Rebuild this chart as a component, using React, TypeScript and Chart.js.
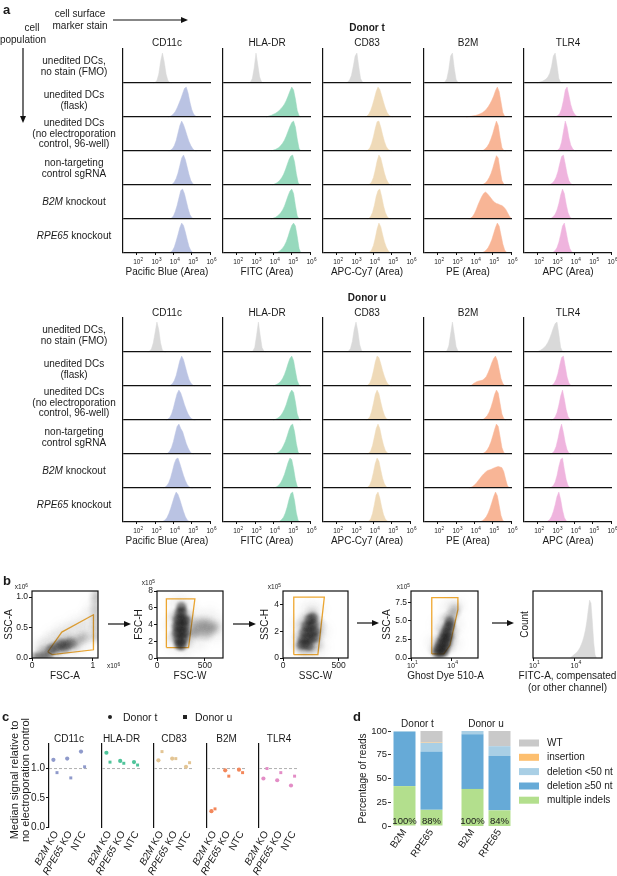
import React, { useEffect, useRef } from 'react';
import { Chart, registerables } from 'chart.js';
Chart.register(...registerables);

const FONT = '"Liberation Sans", Arial, Helvetica, sans-serif';
Chart.defaults.font.family = FONT;
Chart.defaults.color = '#1a1a1a';

// ---------------- Panel a data ----------------
const markers = ['CD11c', 'HLA-DR', 'CD83', 'B2M', 'TLR4'];
const channels = ['Pacific Blue (Area)', 'FITC (Area)', 'APC-Cy7 (Area)', 'PE (Area)', 'APC (Area)'];
const populations = [
  ['unedited DCs,', 'no stain (FMO)'],
  ['unedited DCs', '(flask)'],
  ['unedited DCs', '(no electroporation', 'control, 96-well)'],
  ['non-targeting', 'control sgRNA'],
  ['*B2M* knockout'],
  ['*RPE65* knockout'],
];
const logTicks = [2, 3, 4, 5, 6];
const STEP = 0.1; // histogram bin width in decades
// each histogram: [first bin (log10), relative heights per bin]
const tCD11c = [
  [3.0, [0.02, 0.08, 0.3, 0.72, 1.0, 0.7, 0.3, 0.08, 0.02]],
  [3.8, [0.02, 0.05, 0.1, 0.18, 0.3, 0.45, 0.6, 0.78, 0.95, 1.0, 0.8, 0.5, 0.25, 0.1, 0.03]],
  [3.85, [0.03, 0.08, 0.18, 0.35, 0.6, 0.85, 1.0, 0.88, 0.7, 0.5, 0.32, 0.18, 0.08, 0.02]],
  [3.95, [0.03, 0.1, 0.22, 0.4, 0.65, 0.9, 1.0, 0.85, 0.6, 0.35, 0.15, 0.05]],
  [3.9, [0.03, 0.1, 0.25, 0.45, 0.7, 0.95, 1.0, 0.85, 0.6, 0.35, 0.15, 0.05]],
  [3.85, [0.03, 0.08, 0.2, 0.4, 0.62, 0.85, 1.0, 0.92, 0.7, 0.45, 0.22, 0.08, 0.02]],
];
const tHLADR = [
  [2.75, [0.03, 0.15, 0.5, 1.0, 0.6, 0.2, 0.04]],
  [3.7, [0.02, 0.04, 0.06, 0.09, 0.12, 0.16, 0.21, 0.27, 0.34, 0.43, 0.55, 0.7, 0.86, 1.0, 0.9, 0.6, 0.22, 0.04]],
  [4.0, [0.03, 0.05, 0.08, 0.12, 0.18, 0.26, 0.36, 0.5, 0.66, 0.82, 0.95, 1.0, 0.8, 0.4, 0.08]],
  [4.05, [0.03, 0.06, 0.1, 0.16, 0.24, 0.35, 0.5, 0.68, 0.85, 0.97, 1.0, 0.78, 0.38, 0.08]],
  [4.0, [0.03, 0.05, 0.09, 0.14, 0.21, 0.3, 0.43, 0.6, 0.78, 0.93, 1.0, 0.85, 0.45, 0.1]],
  [4.2, [0.02, 0.05, 0.1, 0.16, 0.25, 0.38, 0.55, 0.75, 0.92, 1.0, 0.9, 0.55, 0.15]],
];
const tCD83 = [
  [2.6, [0.03, 0.1, 0.25, 0.55, 0.9, 1.0, 0.55, 0.15, 0.03]],
  [3.65, [0.03, 0.1, 0.22, 0.4, 0.62, 0.85, 1.0, 0.92, 0.72, 0.5, 0.3, 0.15, 0.06, 0.02]],
  [3.7, [0.03, 0.1, 0.25, 0.48, 0.75, 0.98, 1.0, 0.8, 0.55, 0.32, 0.15, 0.06, 0.02]],
  [3.8, [0.03, 0.1, 0.25, 0.5, 0.8, 1.0, 0.9, 0.65, 0.4, 0.2, 0.08, 0.02]],
  [3.75, [0.02, 0.08, 0.22, 0.45, 0.75, 0.95, 1.0, 0.75, 0.45, 0.22, 0.08, 0.02]],
  [3.8, [0.03, 0.1, 0.25, 0.5, 0.8, 1.0, 0.88, 0.62, 0.38, 0.2, 0.08, 0.02]],
];
const tB2M = [
  [2.4, [0.04, 0.15, 0.45, 0.9, 1.0, 0.5, 0.12, 0.02]],
  [3.65, [0.01, 0.02, 0.03, 0.04, 0.05, 0.07, 0.09, 0.12, 0.15, 0.2, 0.26, 0.34, 0.44, 0.56, 0.7, 0.88, 1.0, 0.85, 0.5, 0.15, 0.02]],
  [4.5, [0.03, 0.08, 0.15, 0.25, 0.4, 0.58, 0.8, 1.0, 0.85, 0.45, 0.12, 0.02]],
  [4.5, [0.03, 0.07, 0.14, 0.24, 0.38, 0.56, 0.78, 0.98, 0.9, 0.5, 0.15, 0.03]],
  [3.8, [0.03, 0.08, 0.18, 0.32, 0.48, 0.62, 0.75, 0.85, 0.9, 0.85, 0.78, 0.7, 0.62, 0.56, 0.52, 0.5, 0.47, 0.45, 0.4, 0.33, 0.22, 0.1, 0.02]],
  [4.45, [0.02, 0.05, 0.1, 0.18, 0.3, 0.45, 0.65, 0.85, 1.0, 0.9, 0.6, 0.3, 0.1, 0.02]],
];
const tTLR4 = [
  [2.05, [0.02, 0.04, 0.06, 0.09, 0.13, 0.2, 0.32, 0.55, 0.9, 1.0, 0.6, 0.15, 0.02]],
  [3.0, [0.02, 0.05, 0.12, 0.28, 0.55, 0.9, 1.0, 0.72, 0.42, 0.22, 0.1, 0.04, 0.01]],
  [3.1, [0.03, 0.1, 0.3, 0.65, 1.0, 0.8, 0.45, 0.2, 0.08, 0.02]],
  [2.7, [0.03, 0.07, 0.14, 0.26, 0.45, 0.72, 0.95, 1.0, 0.7, 0.38, 0.15, 0.05, 0.01]],
  [2.75, [0.03, 0.08, 0.16, 0.3, 0.52, 0.8, 1.0, 0.85, 0.5, 0.22, 0.07, 0.02]],
  [2.85, [0.03, 0.08, 0.18, 0.36, 0.62, 0.9, 1.0, 0.7, 0.38, 0.15, 0.04]],
];
const uCD11c = [
  [2.7, [0.03, 0.1, 0.3, 0.65, 1.0, 0.75, 0.3, 0.06, 0.01]],
  [3.85, [0.03, 0.08, 0.18, 0.35, 0.6, 0.85, 1.0, 0.88, 0.65, 0.42, 0.22, 0.1, 0.03]],
  [3.7, [0.03, 0.08, 0.2, 0.4, 0.65, 0.88, 1.0, 0.9, 0.72, 0.52, 0.35, 0.2, 0.1, 0.04, 0.01]],
  [3.7, [0.03, 0.1, 0.22, 0.42, 0.68, 0.92, 1.0, 0.85, 0.75, 0.55, 0.35, 0.2, 0.08, 0.02]],
  [3.55, [0.03, 0.08, 0.18, 0.35, 0.58, 0.82, 0.97, 1.0, 0.82, 0.62, 0.42, 0.25, 0.12, 0.04, 0.01]],
  [3.45, [0.03, 0.07, 0.15, 0.28, 0.45, 0.65, 0.85, 1.0, 0.92, 0.75, 0.55, 0.35, 0.18, 0.07, 0.02]],
];
const uHLADR = [
  [2.88, [0.03, 0.15, 0.55, 1.0, 0.55, 0.15, 0.03]],
  [4.1, [0.03, 0.06, 0.1, 0.16, 0.25, 0.38, 0.55, 0.75, 0.92, 1.0, 0.85, 0.5, 0.18, 0.03]],
  [4.1, [0.02, 0.05, 0.09, 0.15, 0.24, 0.36, 0.52, 0.72, 0.9, 1.0, 0.92, 0.6, 0.2, 0.03]],
  [4.15, [0.02, 0.05, 0.1, 0.17, 0.28, 0.42, 0.6, 0.8, 0.95, 1.0, 0.75, 0.35, 0.06]],
  [4.1, [0.02, 0.05, 0.1, 0.18, 0.3, 0.45, 0.65, 0.85, 1.0, 0.95, 0.65, 0.28, 0.05]],
  [4.35, [0.03, 0.08, 0.16, 0.3, 0.5, 0.75, 0.95, 1.0, 0.72, 0.3, 0.05]],
];
const uCD83 = [
  [2.65, [0.03, 0.12, 0.35, 0.75, 1.0, 0.7, 0.25, 0.05]],
  [3.7, [0.03, 0.1, 0.25, 0.5, 0.8, 1.0, 0.95, 0.75, 0.52, 0.32, 0.16, 0.06, 0.02]],
  [3.7, [0.03, 0.1, 0.28, 0.55, 0.85, 1.0, 0.88, 0.6, 0.35, 0.16, 0.05, 0.01]],
  [3.75, [0.03, 0.1, 0.28, 0.56, 0.85, 1.0, 0.85, 0.55, 0.3, 0.12, 0.04]],
  [3.7, [0.03, 0.1, 0.26, 0.52, 0.82, 1.0, 0.9, 0.6, 0.33, 0.14, 0.04]],
  [3.75, [0.03, 0.1, 0.28, 0.58, 0.9, 1.0, 0.8, 0.5, 0.25, 0.1, 0.03]],
];
const uB2M = [
  [2.5, [0.04, 0.2, 0.6, 1.0, 0.6, 0.18, 0.03]],
  [3.85, [0.03, 0.08, 0.12, 0.15, 0.17, 0.18, 0.2, 0.25, 0.32, 0.45, 0.6, 0.78, 0.92, 1.0, 0.85, 0.55, 0.25, 0.08, 0.02]],
  [4.5, [0.03, 0.08, 0.15, 0.26, 0.42, 0.62, 0.85, 1.0, 0.9, 0.55, 0.2, 0.05]],
  [4.5, [0.03, 0.07, 0.14, 0.25, 0.4, 0.6, 0.82, 1.0, 0.92, 0.58, 0.22, 0.05]],
  [3.8, [0.02, 0.05, 0.1, 0.16, 0.24, 0.32, 0.4, 0.47, 0.53, 0.58, 0.6, 0.62, 0.65, 0.68, 0.7, 0.72, 0.7, 0.68, 0.55, 0.3, 0.08]],
  [4.35, [0.02, 0.05, 0.1, 0.18, 0.3, 0.46, 0.65, 0.85, 1.0, 0.88, 0.55, 0.22, 0.05]],
];
const uTLR4 = [
  [2.05, [0.03, 0.06, 0.1, 0.15, 0.22, 0.32, 0.45, 0.62, 0.8, 0.95, 1.0, 0.6, 0.15, 0.02]],
  [2.8, [0.03, 0.1, 0.22, 0.42, 0.7, 0.95, 1.0, 0.65, 0.3, 0.1, 0.02]],
  [2.85, [0.03, 0.1, 0.25, 0.5, 0.8, 1.0, 0.7, 0.35, 0.12, 0.03]],
  [2.8, [0.03, 0.1, 0.25, 0.5, 0.8, 1.0, 0.72, 0.38, 0.14, 0.03]],
  [2.75, [0.03, 0.08, 0.2, 0.42, 0.72, 0.95, 1.0, 0.62, 0.28, 0.08, 0.02]],
  [2.55, [0.03, 0.08, 0.18, 0.35, 0.58, 0.85, 1.0, 0.75, 0.4, 0.15, 0.04]],
];
const donorTHists = [tCD11c, tHLADR, tCD83, tB2M, tTLR4];
const donorUHists = [uCD11c, uHLADR, uCD83, uB2M, uTLR4];
const histColors = ['#bac3e3', '#97d9bd', '#efdab8', '#f8b596', '#efb4de'];
const FMO_GRAY = '#d9d9d9';

// ---------------- Panel b data ----------------
const fscA_core = [[0.35, 0.16], [0.42, 0.18], [0.5, 0.2], [0.57, 0.22], [0.64, 0.24], [0.47, 0.23], [0.55, 0.17], [0.3, 0.13], [0.05, 0.01], [0.12, 0.01], [0.2, 0.015], [0.27, 0.02]];
const fscA_cloud = [[0.15, 0.08], [0.22, 0.1], [0.3, 0.13], [0.38, 0.16], [0.46, 0.19], [0.54, 0.21], [0.62, 0.23], [0.7, 0.27], [0.78, 0.3], [0.86, 0.34], [0.5, 0.26], [0.6, 0.3], [0.42, 0.12], [0.7, 0.2], [1.05, 0.35], [1.05, 0.5], [1.05, 0.65], [1.05, 0.8], [1.05, 0.95], [1.06, 1.05]];
const fscA_haze = [[0.2, 0.15], [0.3, 0.25], [0.45, 0.3], [0.6, 0.4], [0.75, 0.45], [0.9, 0.5], [0.95, 0.35], [0.8, 0.2], [0.6, 0.12], [0.4, 0.1], [0.25, 0.08], [0.5, 0.45], [0.7, 0.55], [0.9, 0.65], [1.0, 0.8], [0.35, 0.35], [0.15, 0.2]];
const gateFSCA = [[0.26, 0.1], [0.33, 0.055], [1.01, 0.135], [1.01, 0.71], [0.49, 0.425], [0.26, 0.1]];

const fscW_core = [[220, 2.2], [250, 2.0], [280, 2.3], [205, 3.0], [235, 3.0], [265, 3.0], [295, 3.0], [205, 3.8], [235, 3.8], [265, 3.8], [295, 3.8], [215, 4.6], [245, 4.6], [275, 4.6], [300, 4.5], [235, 5.4], [265, 5.5], [255, 6.1], [230, 1.6], [260, 1.5]];
const fscW_cloud = [[340, 3.0], [380, 3.2], [420, 3.5], [460, 3.6], [500, 3.7], [540, 3.5], [580, 3.4], [360, 4.0], [420, 4.2], [480, 4.3], [540, 4.2], [400, 2.8], [470, 2.9], [530, 2.8], [600, 3.8], [320, 2.0], [320, 5.0], [180, 5.0], [170, 2.5]];
const fscW_haze = [[150, 4], [200, 6.5], [300, 6.5], [400, 5], [550, 5], [620, 3], [450, 2], [300, 1.2], [180, 1.5], [650, 4]];
const gateFSCW = [[98, 1.25], [98, 7.05], [396, 7.05], [330, 1.25], [98, 1.25]];

const sscW_core = [[200, 1.0], [235, 0.9], [180, 1.4], [215, 1.4], [250, 1.4], [285, 1.5], [190, 1.9], [225, 1.9], [260, 1.9], [290, 2.0], [210, 2.4], [245, 2.4], [275, 2.5], [240, 2.9], [270, 3.0], [165, 1.0]];
const sscW_cloud = [[150, 0.8], [150, 1.6], [170, 2.4], [200, 2.9], [260, 3.3], [300, 2.8], [320, 1.8], [310, 1.0], [260, 0.7], [190, 0.6], [330, 2.4]];
const sscW_haze = [[130, 1.2], [140, 2.5], [220, 3.6], [300, 3.6], [350, 2.0], [330, 0.8], [240, 0.4]];
const gateSSCW = [[97, 0.25], [97, 4.55], [372, 4.55], [314, 0.25], [97, 0.25]];

const ghost_core = [[2.95, 0.7], [3.2, 0.7], [3.45, 0.8], [3.05, 1.3], [3.3, 1.3], [3.55, 1.4], [3.2, 1.9], [3.45, 2.0], [3.7, 2.1], [3.35, 2.6], [3.6, 2.7], [3.8, 2.9], [3.5, 3.3], [3.75, 3.5], [3.7, 4.1], [3.9, 4.3], [3.9, 4.9]];
const ghost_cloud = [[4.0, 5.5], [4.15, 6.0], [4.1, 3.6], [4.0, 2.6], [3.85, 1.5], [2.8, 1.1], [3.0, 2.3], [3.3, 3.8], [4.3, 6.6], [3.6, 5.2]];
const ghost_haze = [[4.3, 4.5], [4.4, 7], [3.2, 4.5], [2.7, 2.0], [4.2, 2], [3.8, 6.8]];
const gateGhost = [[2.55, 0.55], [2.55, 8.1], [4.5, 8.1], [4.5, 6.5], [3.9, 1.7], [3.45, 0.55], [2.55, 0.55]];

const fitcHist = [3.8, [0.02, 0.04, 0.06, 0.08, 0.1, 0.13, 0.17, 0.22, 0.28, 0.36, 0.46, 0.6, 0.78, 0.95, 0.9, 0.6, 0.25, 0.05]];

// ---------------- Panel c data ----------------
const koGroups = ['*B2M* KO', '*RPE65* KO', 'NTC'];
const medT_CD11c = [1.15, 1.17, 1.29];
const medU_CD11c = [0.93, 0.84, 1.03];
const medT_HLADR = [1.27, 1.13, 1.11];
const medU_HLADR = [1.11, 1.09, 1.06];
const medT_CD83 = [1.14, 1.17, 1.03];
const medU_CD83 = [1.29, 1.17, 1.1];
const medT_B2M = [0.27, 0.97, 0.98];
const medU_B2M = [0.31, 0.87, 0.93];
const medT_TLR4 = [0.83, 0.8, 0.71];
const medU_TLR4 = [1.0, 0.93, 0.87];
const medDonorT = [medT_CD11c, medT_HLADR, medT_CD83, medT_B2M, medT_TLR4];
const medDonorU = [medU_CD11c, medU_HLADR, medU_CD83, medU_B2M, medU_TLR4];
const pointColors = ['#8f9acb', '#4fc49a', '#e3c594', '#f3875a', '#e38dc6'];
const medTicks = [0, 0.5, 1.0];

// ---------------- Panel d data ----------------
const guides = ['B2M', 'RPE65'];
const editClasses = ['WT', 'insertion', 'deletion <50 nt', 'deletion ≥50 nt', 'multiple indels'];
const editColors = ['#c9c9c9', '#fdbf6f', '#a9cfe5', '#66aad7', '#b3df8d'];
const tWT = [0, 12];
const tIns = [0, 0.5];
const tDelSmall = [1, 9];
const tDelLarge = [57, 61.5];
const tMulti = [42, 17];
const uWT = [0, 16];
const uIns = [0, 0];
const uDelSmall = [3.5, 10.3];
const uDelLarge = [57.5, 57.2];
const uMulti = [39, 16.5];
const pctTicks = [0, 25, 50, 75, 100];

// ---------------- helpers ----------------
const fixTicks = (vals: number[]) => (s: any) => {
  s.ticks = vals.map((v) => ({ value: v }));
};

function splitItalic(s: string) {
  return s.split('*').map((t, i) => ({ t, it: i % 2 === 1 })).filter((p) => p.t.length);
}

const powTicks = {
  id: 'powTicks',
  afterDraw(chart: any, _a: any, o: any) {
    if (!o || !o.values) return;
    const { ctx, chartArea } = chart;
    const xs = chart.scales.x;
    ctx.save();
    ctx.fillStyle = '#1a1a1a';
    ctx.textBaseline = 'middle';
    o.values.forEach((v: number) => {
      const px = xs.getPixelForValue(v);
      const py = chartArea.bottom + o.offset;
      ctx.font = `${o.size}px ${FONT}`;
      const w = ctx.measureText('10').width;
      ctx.textAlign = 'center';
      ctx.fillText('10', px, py);
      ctx.font = `${o.size * 0.72}px ${FONT}`;
      ctx.textAlign = 'left';
      ctx.fillText(String(v), px + w / 2 + 0.2, py - o.size * 0.42);
    });
    ctx.restore();
  },
};

const frameBox = {
  id: 'frameBox',
  afterDraw(chart: any, _a: any, o: any) {
    if (!o || !o.on) return;
    const { ctx, chartArea: c } = chart;
    ctx.save();
    ctx.strokeStyle = '#111';
    ctx.lineWidth = 1.2;
    ctx.strokeRect(c.left, c.top, c.right - c.left, c.bottom - c.top);
    ctx.restore();
  },
};

// soft-focus for density clouds (dataset option "blur", px)
const softCloud = {
  id: 'softCloud',
  beforeDatasetDraw(chart: any, args: any) {
    const b = chart.data.datasets[args.index].blur;
    if (b) chart.ctx.filter = `blur(${b}px)`;
  },
  afterDatasetDraw(chart: any, args: any) {
    const b = chart.data.datasets[args.index].blur;
    if (b) chart.ctx.filter = 'none';
  },
};

const slantLabels = {
  id: 'slantLabels',
  afterDraw(chart: any, _a: any, o: any) {
    if (!o || !o.labels) return;
    const { ctx, chartArea } = chart;
    const xs = chart.scales.x;
    o.labels.forEach((label: string, i: number) => {
      const segs = splitItalic(label);
      ctx.save();
      ctx.translate(xs.getPixelForValue(i) + o.dx, chartArea.bottom + o.dy);
      ctx.rotate((-o.angle * Math.PI) / 180);
      ctx.fillStyle = '#1a1a1a';
      ctx.textBaseline = 'middle';
      ctx.textAlign = 'left';
      const fonts = segs.map((s) => `${s.it ? 'italic ' : ''}${o.size}px ${FONT}`);
      let total = 0;
      segs.forEach((s, k) => {
        ctx.font = fonts[k];
        total += ctx.measureText(s.t).width;
      });
      let x = -total;
      segs.forEach((s, k) => {
        ctx.font = fonts[k];
        ctx.fillText(s.t, x, 0);
        x += ctx.measureText(s.t).width;
      });
      ctx.restore();
    });
  },
};

const barNotes = {
  id: 'barNotes',
  afterDatasetsDraw(chart: any, _a: any, o: any) {
    if (!o || !o.labels) return;
    const { ctx } = chart;
    const xs = chart.scales.x;
    const ys = chart.scales.y;
    ctx.save();
    ctx.font = `9.5px ${FONT}`;
    ctx.fillStyle = '#1a1a1a';
    ctx.textAlign = 'center';
    ctx.textBaseline = 'middle';
    o.labels.forEach((t: string, i: number) => ctx.fillText(t, xs.getPixelForValue(i), ys.getPixelForValue(o.at)));
    ctx.restore();
  },
};

type Geo = { x: number; y: number; w: number; h: number; l: number; r: number; t: number; b: number };

function baseOptions(geo: Geo, scales: any, plugins: any = {}) {
  scales.x.afterFit = (s: any) => {
    s.height = geo.b;
  };
  scales.y.afterFit = (s: any) => {
    s.width = geo.l;
  };
  return {
    responsive: false,
    maintainAspectRatio: false,
    animation: false,
    devicePixelRatio: 1,
    events: [],
    layout: { padding: { left: 0, right: geo.r, top: geo.t, bottom: 0 } },
    plugins: { legend: { display: false }, tooltip: { enabled: false }, ...plugins },
    scales,
  };
}

const tickGrid = { drawOnChartArea: false, drawTicks: true, tickLength: 3, color: '#111', lineWidth: 1 };
const noGrid = { display: false, drawTicks: false };

function histDatasets(rows: any[], color: string) {
  return rows.map(([start, hs]: [number, number[]], r: number) => {
    const base = rows.length - 1 - r;
    const pts = [{ x: start - STEP, y: base }];
    hs.forEach((h, i) => pts.push({ x: start + i * STEP, y: base + h * 0.88 }));
    pts.push({ x: start + hs.length * STEP, y: base });
    const c = r === 0 ? FMO_GRAY : color;
    return { type: 'line', data: pts, borderColor: c, backgroundColor: c, borderWidth: 0.5, pointRadius: 0, fill: { value: base }, tension: 0 };
  });
}

const colLefts = [123, 223, 323, 424, 524];

function histColumnSpec(key: string, left: number, top: number, rows: any[], color: string, channel: string) {
  const geo: Geo = { x: left, y: top, w: 88, h: 204, l: 2, r: 10, t: 2, b: 27 };
  return {
    key,
    geo,
    make: () => ({
      type: 'line',
      data: { datasets: histDatasets(rows, color) },
      options: baseOptions(
        geo,
        {
          x: {
            type: 'linear', min: 1.25, max: 6.05, afterBuildTicks: fixTicks(logTicks),
            ticks: { display: false }, border: { display: false },
            grid: { drawOnChartArea: false, drawTicks: true, tickLength: 2, color: '#111', lineWidth: 1 },
            title: { display: true, text: channel, font: { size: 10 }, padding: { top: 0, bottom: 1.5 }, color: '#1a1a1a' },
          },
          y: {
            type: 'linear', min: 0, max: 6, afterBuildTicks: fixTicks([0, 1, 2, 3, 4, 5]),
            ticks: { display: false },
            grid: { color: '#111', lineWidth: 1.2, drawTicks: false, z: 1 },
            border: { display: true, color: '#111', width: 1.2, z: 1 },
          },
        },
        { powTicks: { values: logTicks, offset: 9, size: 6.5 } }
      ),
      plugins: [powTicks],
    }),
  };
}

function cloudSets(core: number[][], cloud: number[][], haze: number[][], coreAlpha: number) {
  const mk = (arr: number[][], r: number, col: string, blur: number) => ({
    type: 'scatter', data: arr.map(([x, y]) => ({ x, y })), blur,
    pointRadius: r, pointHoverRadius: r,
    backgroundColor: col, pointBackgroundColor: col,
    borderWidth: 0, pointBorderWidth: 0, borderColor: 'rgba(0,0,0,0)', pointBorderColor: 'rgba(0,0,0,0)',
  });
  return [
    mk(haze, 8, 'rgba(90,90,90,0.08)', 4),
    mk(cloud, 5, 'rgba(60,60,60,0.22)', 2.5),
    mk(core, 5, `rgba(35,35,35,${coreAlpha})`, 1.5),
  ];
}

function gateSet(gate: number[][]) {
  return { type: 'line', data: gate.map(([x, y]) => ({ x, y })), borderColor: '#f0a830', borderWidth: 1.3, pointRadius: 0, fill: false, tension: 0 };
}

const tickFont = { size: 8.5 };

function linX(min: number, max: number, ticks: number[], title: any) {
  return {
    type: 'linear', min, max, afterBuildTicks: fixTicks(ticks),
    ticks: { font: tickFont, padding: 0, maxRotation: 0, autoSkip: false, callback: (v: number) => String(v) },
    grid: tickGrid, border: { display: false },
    title: { display: true, text: title, font: { size: 10 }, padding: { top: 0, bottom: 2 } },
  };
}
function logX(min: number, max: number, ticks: number[]) {
  return {
    type: 'linear', min, max, afterBuildTicks: fixTicks(ticks),
    ticks: { display: false }, grid: tickGrid, border: { display: false },
  };
}
function linY(min: number, max: number, ticks: number[], digits: number, title: string, pad: number) {
  return {
    type: 'linear', min, max, afterBuildTicks: fixTicks(ticks),
    ticks: { font: tickFont, padding: 1, callback: (v: number) => v.toFixed(digits) },
    grid: tickGrid, border: { display: false },
    title: { display: true, text: title, font: { size: 10 }, padding: { top: pad, bottom: 0 } },
  };
}

const gateGeo1: Geo = { x: 32, y: 591, w: 70, h: 67, l: 30, r: 4, t: 8, b: 26 };
const gateGeo2: Geo = { x: 157, y: 591, w: 70, h: 67, l: 24, r: 4, t: 8, b: 26 };
const gateGeo3: Geo = { x: 283, y: 591, w: 69, h: 67, l: 24, r: 4, t: 8, b: 26 };
const gateGeo4: Geo = { x: 411, y: 591, w: 69, h: 67, l: 30, r: 6, t: 8, b: 26 };
const gateGeo5: Geo = { x: 533, y: 591, w: 69, h: 67, l: 14, r: 6, t: 8, b: 26 };

const gateSpecs = [
  {
    key: 'b1', geo: gateGeo1,
    make: () => ({
      type: 'scatter',
      data: { datasets: [...cloudSets(fscA_core, fscA_cloud, fscA_haze, 0.3), gateSet(gateFSCA)] },
      options: baseOptions(gateGeo1, { x: linX(0, 1.085, [0, 1], 'FSC-A'), y: linY(0, 1.1, [0, 0.5, 1], 1, 'SSC-A', 1) }, { frameBox: { on: true } }),
      plugins: [softCloud, frameBox],
    }),
  },
  {
    key: 'b2', geo: gateGeo2,
    make: () => ({
      type: 'scatter',
      data: { datasets: [...cloudSets(fscW_core, fscW_cloud, fscW_haze, 0.55), gateSet(gateFSCW)] },
      options: baseOptions(gateGeo2, { x: linX(0, 690, [0, 500], 'FSC-W'), y: linY(0, 8, [0, 2, 4, 6, 8], 0, 'FSC-H', 0.5) }, { frameBox: { on: true } }),
      plugins: [softCloud, frameBox],
    }),
  },
  {
    key: 'b3', geo: gateGeo3,
    make: () => ({
      type: 'scatter',
      data: { datasets: [...cloudSets(sscW_core, sscW_cloud, sscW_haze, 0.55), gateSet(gateSSCW)] },
      options: baseOptions(gateGeo3, { x: linX(0, 585, [0, 500], 'SSC-W'), y: linY(0, 5, [0, 2, 4], 0, 'SSC-H', 0) }, { frameBox: { on: true } }),
      plugins: [softCloud, frameBox],
    }),
  },
  {
    key: 'b4', geo: gateGeo4,
    make: () => ({
      type: 'scatter',
      data: { datasets: [...cloudSets(ghost_core, ghost_cloud, ghost_haze, 0.55), gateSet(gateGhost)] },
      options: baseOptions(
        gateGeo4,
        { x: logX(1, 6, [1, 4]), y: linY(0, 9, [0, 2.5, 5, 7.5], 1, 'SSC-A', 0) },
        { frameBox: { on: true }, powTicks: { values: [1, 4], offset: 8, size: 7 } }
      ),
      plugins: [softCloud, frameBox, powTicks],
    }),
  },
  {
    key: 'b5', geo: gateGeo5,
    make: () => {
      const [start, hs] = fitcHist as [number, number[]];
      const pts = [{ x: start - STEP, y: 0 }, ...hs.map((h, i) => ({ x: start + i * STEP, y: h })), { x: start + hs.length * STEP, y: 0 }];
      return {
        type: 'line',
        data: { datasets: [{ data: pts, borderColor: FMO_GRAY, backgroundColor: FMO_GRAY, borderWidth: 0.5, pointRadius: 0, fill: 'origin', tension: 0 }] },
        options: baseOptions(
          gateGeo5,
          {
            x: logX(1, 6, [1, 4]),
            y: { type: 'linear', min: 0, max: 1.1, ticks: { display: false }, grid: noGrid, border: { display: false }, title: { display: true, text: 'Count', font: { size: 10 }, padding: { top: 0, bottom: 0 } } },
          },
          { frameBox: { on: true }, powTicks: { values: [1, 4], offset: 8, size: 7 } }
        ),
        plugins: [frameBox, powTicks],
      };
    },
  },
];

// panel c
const medLefts = [49, 101.5, 154, 206.5, 259];
const medSpecs = markers.map((m, i) => {
  const first = i === 0;
  const geo: Geo = { x: medLefts[i], y: 744, w: 40, h: 83, l: 30, r: 4, t: 8, b: 50 };
  return {
    key: 'c' + i, geo,
    make: () => ({
      type: 'scatter',
      data: {
        datasets: [
          { type: 'line', data: [{ x: -0.45, y: 1 }, { x: 2.45, y: 1 }], borderColor: '#b0b0b0', borderDash: [3, 2], borderWidth: 1, pointRadius: 0, order: 3 },
          { data: medDonorT[i].map((v, k) => ({ x: k - 0.13, y: v })), pointStyle: 'circle', pointRadius: 2.1, backgroundColor: pointColors[i], pointBorderWidth: 0, borderWidth: 0, order: 1 },
          { data: medDonorU[i].map((v, k) => ({ x: k + 0.13, y: v })), pointStyle: 'rect', pointRadius: 2.1, backgroundColor: pointColors[i], pointBorderWidth: 0, borderWidth: 0, order: 0 },
        ],
      },
      options: baseOptions(
        geo,
        {
          x: { type: 'linear', min: -0.45, max: 2.45, ticks: { display: false }, grid: noGrid, border: { display: false } },
          y: {
            type: 'linear', min: 0, max: 1.42, afterBuildTicks: fixTicks(medTicks),
            ticks: { display: first, font: { size: 10 }, padding: 1, callback: (v: number) => v.toFixed(1) },
            grid: first ? tickGrid : noGrid,
            border: { display: true, color: '#111', width: 1.2 },
          },
        },
        { slantLabels: { labels: koGroups, angle: 60, dx: 1, dy: 5, size: 10 } }
      ),
      plugins: [slantLabels],
    }),
  };
});

// panel d
function editDatasets(multi: number[], delL: number[], delS: number[], ins: number[], wt: number[]) {
  const vals = [wt, ins, delS, delL, multi];
  // bottom to top order: multiple indels, deletion >=50, deletion <50, insertion, WT
  return [4, 3, 2, 1, 0].map((k) => ({
    label: editClasses[k], data: vals[k], backgroundColor: editColors[k], borderWidth: 0, stack: 's',
    barPercentage: 22 / 27, categoryPercentage: 1,
  }));
}
function editSpec(key: string, geo: Geo, sets: any[], wt: number[], withAxis: boolean) {
  return {
    key, geo,
    make: () => ({
      type: 'bar',
      data: { labels: guides, datasets: sets },
      options: baseOptions(
        geo,
        {
          x: {
            type: 'category', stacked: true,
            ticks: { font: { size: 10 }, minRotation: 55, maxRotation: 55, padding: 1, autoSkip: false },
            grid: noGrid, border: { display: false },
          },
          y: {
            type: 'linear', stacked: true, min: 0, max: 100, afterBuildTicks: fixTicks(pctTicks),
            ticks: { display: withAxis, font: { size: 9.5 }, padding: 1 },
            grid: withAxis ? { drawOnChartArea: false, drawTicks: true, tickLength: 3, color: '#333' } : noGrid,
            border: { display: false },
            title: withAxis ? { display: true, text: 'Percentage of reads', font: { size: 10 }, padding: { top: 0.5, bottom: 0 } } : { display: false },
          },
        },
        { barNotes: { labels: wt.map((w) => `${Math.round(100 - w)}%`), at: 5 } }
      ),
      plugins: [barNotes],
    }),
  };
}
const editGeoT: Geo = { x: 390.5, y: 731, w: 54, h: 95, l: 34, r: 3, t: 10, b: 45 };
const editGeoU: Geo = { x: 459, y: 731, w: 54, h: 95, l: 4, r: 3, t: 10, b: 45 };

const SPECS: any[] = [
  ...markers.map((m, i) => histColumnSpec('at' + i, colLefts[i], 49, donorTHists[i], histColors[i], channels[i])),
  ...markers.map((m, i) => histColumnSpec('au' + i, colLefts[i], 318, donorUHists[i], histColors[i], channels[i])),
  ...gateSpecs,
  ...medSpecs,
  editSpec('dt', editGeoT, editDatasets(tMulti, tDelLarge, tDelSmall, tIns, tWT), tWT, true),
  editSpec('du', editGeoU, editDatasets(uMulti, uDelLarge, uDelSmall, uIns, uWT), uWT, false),
];

function ChartCanvas({ spec }: { spec: any }) {
  const ref = useRef<HTMLCanvasElement>(null);
  useEffect(() => {
    const chart = new Chart(ref.current as HTMLCanvasElement, spec.make());
    return () => chart.destroy();
  }, [spec]);
  const g: Geo = spec.geo;
  const W = g.w + g.l + g.r;
  const H = g.h + g.t + g.b;
  return <canvas ref={ref} width={W} height={H} style={{ position: 'absolute', left: g.x - g.l, top: g.y - g.t, width: W, height: H }} />;
}

function Rich({ s }: { s: string }) {
  return (
    <>
      {splitItalic(s).map((p, i) => (p.it ? <i key={i}>{p.t}</i> : <span key={i}>{p.t}</span>))}
    </>
  );
}

function Txt({ x, y, s = 10, b = false, a = 'c', rot = 0, lh, children }: any) {
  const tx = a === 'c' ? '-50%' : a === 'r' ? '-100%' : '0%';
  return (
    <div
      style={{
        position: 'absolute', left: x, top: y,
        transform: `translate(${tx},-50%)` + (rot ? ` rotate(${rot}deg)` : ''),
        fontFamily: FONT, fontSize: s, fontWeight: b ? 700 : 400,
        lineHeight: `${lh ?? Math.round(s * 1.15)}px`, whiteSpace: 'nowrap',
        textAlign: a === 'c' ? 'center' : a === 'r' ? 'right' : 'left', color: '#1a1a1a',
      }}
    >
      {children}
    </div>
  );
}

function Lines({ lines }: { lines: string[] }) {
  return (
    <>
      {lines.map((l, i) => (
        <div key={i}>
          <Rich s={l} />
        </div>
      ))}
    </>
  );
}

function Exp({ x, y, e, a = 'r' }: any) {
  return (
    <Txt x={x} y={y} s={6.5} a={a}>
      x10<span style={{ fontSize: 4.8, position: 'relative', top: -2.5 }}>{e}</span>
    </Txt>
  );
}

function Arrow({ x1, y1, x2, y2 }: any) {
  const ang = Math.atan2(y2 - y1, x2 - x1);
  const L = 7, Wd = 3;
  const bx = x2 - L * Math.cos(ang), by = y2 - L * Math.sin(ang);
  const px = -Math.sin(ang) * Wd, py = Math.cos(ang) * Wd;
  return (
    <g>
      <line x1={x1} y1={y1} x2={bx} y2={by} stroke="#111" strokeWidth={1.2} />
      <polygon points={`${x2},${y2} ${bx + px},${by + py} ${bx - px},${by - py}`} fill="#111" />
    </g>
  );
}

export default function App() {
  const rowsT = populations.map((_, r) => 49 + 34 * r + 17);
  const rowsU = populations.map((_, r) => 318 + 34 * r + 17);
  const legendRows = [743, 757.3, 771.6, 786, 800.2];
  return (
    <div style={{ position: 'absolute', left: 0, top: 0, width: 617, height: 876, background: '#fff', overflow: 'hidden', fontFamily: FONT }}>
      {SPECS.map((s) => (
        <ChartCanvas key={s.key} spec={s} />
      ))}
      <svg width={617} height={876} style={{ position: 'absolute', left: 0, top: 0, pointerEvents: 'none' }}>
        <Arrow x1={113} y1={20} x2={188} y2={20} />
        <Arrow x1={23} y1={48} x2={23} y2={123} />
        <Arrow x1={108} y1={624} x2={131} y2={624} />
        <Arrow x1={233} y1={624} x2={256} y2={624} />
        <Arrow x1={357} y1={623} x2={379} y2={623} />
        <Arrow x1={492} y1={623} x2={514} y2={623} />
        <circle cx={110} cy={717} r={2} fill="#222" />
        <rect x={183} y={715} width={4} height={4} fill="#222" />
        {editClasses.map((c, i) => (
          <rect key={c} x={519} y={legendRows[i] - 3.5} width={20} height={7} fill={editColors[i]} />
        ))}
      </svg>

      {/* panel a */}
      <Txt x={3} y={9} s={13} b a="l">a</Txt>
      <Txt x={80} y={20} lh={12}>
        cell surface<br />marker stain
      </Txt>
      <Txt x={32} y={28}>cell</Txt>
      <Txt x={23} y={40}>population</Txt>
      <Txt x={367} y={28} b>Donor t</Txt>
      <Txt x={367} y={298} b>Donor u</Txt>
      {markers.map((m, i) => (
        <Txt key={'mt' + m} x={colLefts[i] + 44} y={43}>{m}</Txt>
      ))}
      {markers.map((m, i) => (
        <Txt key={'mu' + m} x={colLefts[i] + 44} y={313}>{m}</Txt>
      ))}
      {populations.map((p, r) => (
        <Txt key={'pt' + r} x={74} y={rowsT[r]} lh={10.5}>
          <Lines lines={p} />
        </Txt>
      ))}
      {populations.map((p, r) => (
        <Txt key={'pu' + r} x={74} y={rowsU[r]} lh={10.5}>
          <Lines lines={p} />
        </Txt>
      ))}

      {/* panel b */}
      <Txt x={3} y={580} s={13} b a="l">b</Txt>
      <Exp x={28} y={587} e="6" />
      <Exp x={107} y={666} e="6" a="l" />
      <Exp x={155} y={583} e="5" />
      <Exp x={281} y={587} e="5" />
      <Exp x={410} y={587} e="5" />
      <Txt x={445.5} y={676}>Ghost Dye 510-A</Txt>
      <Txt x={567.5} y={682} lh={12}>
        FITC-A, compensated<br />(or other channel)
      </Txt>

      {/* panel c */}
      <Txt x={2} y={716} s={13} b a="l">c</Txt>
      <Txt x={123} y={717} s={10.5} a="l">Donor t</Txt>
      <Txt x={195} y={717} s={10.5} a="l">Donor u</Txt>
      {markers.map((m, i) => (
        <Txt key={'ct' + m} x={medLefts[i] + 20} y={739}>{m}</Txt>
      ))}
      <Txt x={19.5} y={780} s={11} lh={11} rot={-90}>
        Median signal relative to<br />no electroporation control
      </Txt>

      {/* panel d */}
      <Txt x={353} y={716} s={13} b a="l">d</Txt>
      <Txt x={editGeoT.x + editGeoT.w / 2} y={724}>Donor t</Txt>
      <Txt x={editGeoU.x + editGeoU.w / 2} y={724}>Donor u</Txt>
      {editClasses.map((c, i) => (
        <Txt key={'dl' + c} x={547} y={legendRows[i]} a="l">{c}</Txt>
      ))}
    </div>
  );
}
